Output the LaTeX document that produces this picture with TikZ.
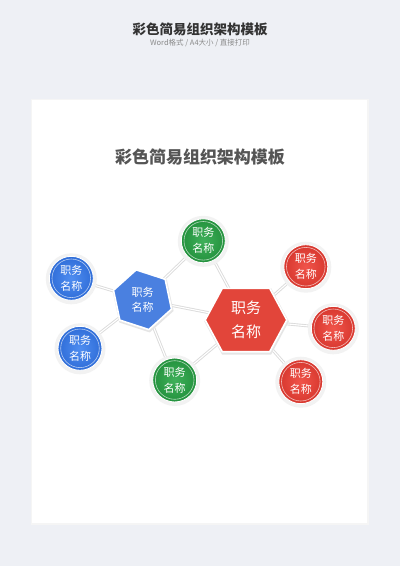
\documentclass[tikz,border=0pt]{standalone}
\usepackage{fontspec}
\setmainfont{Noto Sans CJK SC}
\usetikzlibrary{calc}
\definecolor{bg}{HTML}{EEF0F5}
\definecolor{blueL}{HTML}{4F8DF0}
\definecolor{blueD}{HTML}{2F6DD8}
\definecolor{greenL}{HTML}{3FB05A}
\definecolor{greenD}{HTML}{23913D}
\definecolor{redL}{HTML}{F0544A}
\definecolor{redD}{HTML}{D7372E}
\definecolor{hexblue}{HTML}{4A80E0}
\definecolor{hexred}{HTML}{E2453A}
\definecolor{titlegray}{HTML}{333333}
\definecolor{subgray}{HTML}{8A8A8A}
\definecolor{innergray}{HTML}{555555}
\newcommand\jobcircle[4]{%
  \fill[black!9] ($(#2)+(0.6pt,-1.2pt)$) circle (24pt);
  \fill[black!5] ($(#2)+(0pt,-0.5pt)$) circle (25.5pt);
  \node[bubble, inner color=#3, outer color=#4] (#1) at (#2) {职务\\名称};
  \draw[white, opacity=.65, line width=.6pt] (#2) circle (19.3pt);
}
\tikzset{
  conn/.style={draw=black!14, line width=0.9pt, double=white, double distance=1.1pt},
  bubble/.style={circle, minimum size=44pt, inner sep=0pt, draw=white, line width=0.9pt,
    text=white, align=center, font=\fontsize{11}{16}\selectfont},
  hextxt/.style={text=white, align=center, inner sep=0pt},
  hexshape/.style={draw=white, line width=1.6pt},
}
\begin{document}
\begin{tikzpicture}[x=1pt,y=-1pt]
\useasboundingbox (0,0) rectangle (400,566);
\fill[bg] (0,0) rectangle (400,566);
% card
\fill[black!4] (31,99) rectangle (368.5,524.5);
\fill[white] (32,100) rectangle (367,523);
% titles
\node[font=\fontsize{13.5}{16}\selectfont\bfseries, text=titlegray] (t1) at (200,29.5) {彩色简易组织架构模板};
\node[font=\fontsize{7.5}{9}\selectfont, text=subgray] (t2) at (200,43) {Word格式 / A4大小 / 直接打印};
\node[font=\fontsize{17}{20}\selectfont\bfseries, text=innergray] (t3) at (200,157) {彩色简易组织架构模板};
% centers
\coordinate (bh) at (142.5,299.7);
\coordinate (rh) at (246,320);
\coordinate (b1) at (71.3,278.3);
\coordinate (b2) at (80,348.3);
\coordinate (g1) at (203.3,240.8);
\coordinate (g2) at (174.7,380);
\coordinate (r1) at (305.8,266.7);
\coordinate (r2) at (333.3,328.3);
\coordinate (r3) at (300.8,381.7);
% connectors
\foreach \a/\b in {bh/b1,bh/b2,bh/g1,bh/g2,bh/rh,g1/rh,g2/rh,rh/r1,rh/r2,rh/r3}
  \draw[conn] (\a) -- (\b);
% blue hexagon
\fill[black!10, shift={(bh)}, shift={(0.6pt,-1.4pt)}] (-18:32pt) -- (42:32pt) -- (102:32pt) -- (162:32pt) -- (222:32pt) -- (282:32pt) -- cycle;
\filldraw[hexshape, fill=hexblue, shift={(bh)}] (-18:30.5pt) -- (42:30.5pt) -- (102:30.5pt) -- (162:30.5pt) -- (222:30.5pt) -- (282:30.5pt) -- cycle;
\node[hextxt, font=\fontsize{11}{15}\selectfont] (bht) at (bh) {职务\\名称};
% red hexagon
\fill[black!10, shift={(rh)}, shift={(0.6pt,-1.4pt)}] (42.3pt,0pt) -- (24.5pt,33.2pt) -- (-24.5pt,33.2pt) -- (-42.3pt,0pt) -- (-24.5pt,-33.2pt) -- (24.5pt,-33.2pt) -- cycle;
\filldraw[hexshape, fill=hexred, shift={(rh)}] (40.8pt,0pt) -- (23.7pt,31.7pt) -- (-23.7pt,31.7pt) -- (-40.8pt,0pt) -- (-23.7pt,-31.7pt) -- (23.7pt,-31.7pt) -- cycle;
\node[hextxt, font=\fontsize{15}{24}\selectfont] (rht) at (rh) {职务\\名称};
% circles
\jobcircle{cb1}{b1}{blueL}{blueD}
\jobcircle{cb2}{b2}{blueL}{blueD}
\jobcircle{cg1}{g1}{greenL}{greenD}
\jobcircle{cg2}{g2}{greenL}{greenD}
\jobcircle{cr1}{r1}{redL}{redD}
\jobcircle{cr2}{r2}{redL}{redD}
\jobcircle{cr3}{r3}{redL}{redD}
\end{tikzpicture}
\end{document}
